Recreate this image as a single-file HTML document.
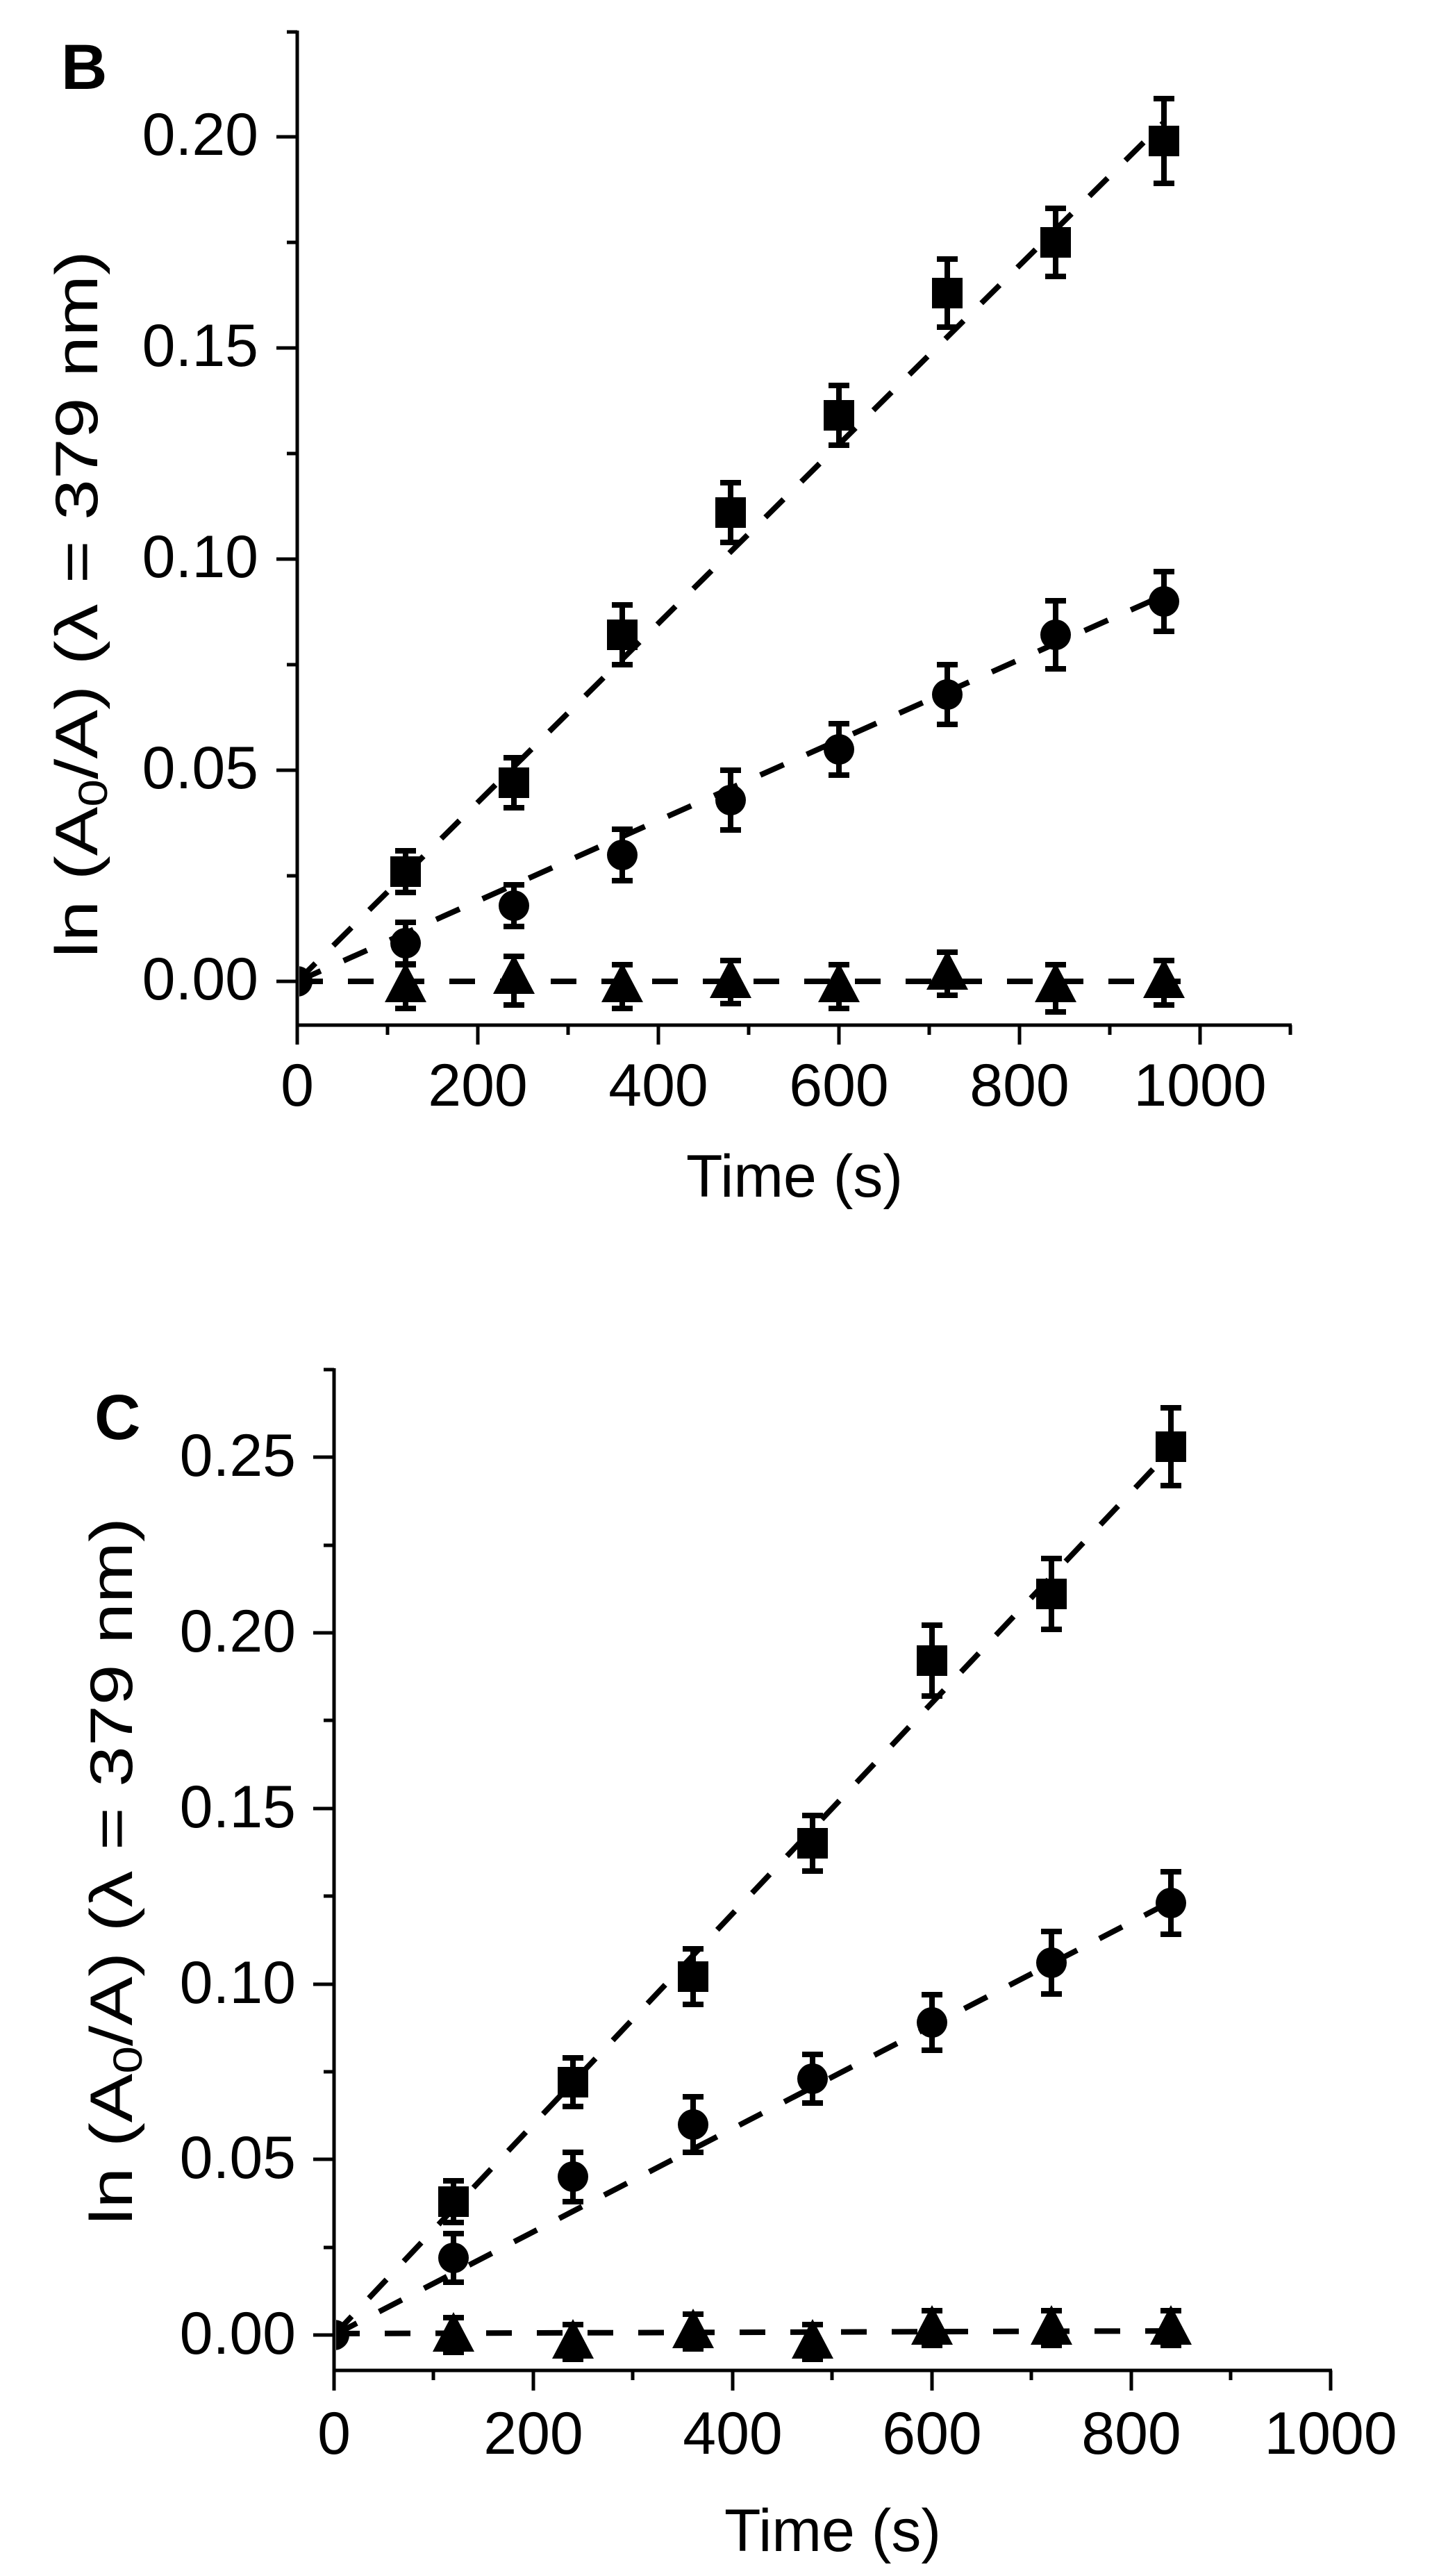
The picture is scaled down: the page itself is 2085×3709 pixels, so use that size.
<!DOCTYPE html>
<html><head><meta charset="utf-8"><style>
html,body{margin:0;padding:0;background:#fff;}
svg{display:block;}
text{font-family:"Liberation Sans",Arial,sans-serif;fill:#000;}
</style></head><body>
<svg width="2085" height="3709" viewBox="0 0 2085 3709" xmlns="http://www.w3.org/2000/svg">
<defs>
<clipPath id="cb"><rect x="431" y="0" width="1700" height="1900"/></clipPath>
<clipPath id="cc"><rect x="484" y="1900" width="1700" height="1800"/></clipPath>
<g id="sq"><rect x="-22" y="-22" width="44" height="44"/></g>
<g id="ci"><circle r="22"/></g>
<g id="tr"><polygon points="0,-33 30,24 -30,24"/></g>
</defs>

<!-- ============ PANEL B ============ -->
<g stroke="#000" stroke-width="5" fill="none">
<line x1="428" y1="44" x2="428" y2="1476"/>
<line x1="426" y1="1476" x2="1860" y2="1476"/>
<path d="M398 1413H428M398 1109H428M398 805H428M398 501H428M398 197H428M413 1261H428M413 957H428M413 653H428M413 349H428M413 46H428"/>
<path d="M428 1476V1504M688 1476V1504M948 1476V1504M1208 1476V1504M1468 1476V1504M1728 1476V1504M558 1476V1490M818 1476V1490M1078 1476V1490M1338 1476V1490M1598 1476V1490M1858 1476V1490"/>
</g>
<g font-size="86" text-anchor="end">
<text x="372" y="1439">0.00</text>
<text x="372" y="1135">0.05</text>
<text x="372" y="831">0.10</text>
<text x="372" y="527">0.15</text>
<text x="372" y="223">0.20</text>
</g>
<g font-size="86" text-anchor="middle">
<text x="428" y="1592">0</text>
<text x="688" y="1592">200</text>
<text x="948" y="1592">400</text>
<text x="1208" y="1592">600</text>
<text x="1468" y="1592">800</text>
<text x="1728" y="1592">1000</text>
<text x="1144" y="1723">Time (s)</text>
</g>
<text x="88" y="128" font-size="92" font-weight="bold">B</text>
<text transform="translate(140,870) rotate(-90) scale(1.23,1)" font-size="86" text-anchor="middle">ln (A<tspan font-size="58" dy="14">0</tspan><tspan dy="-14">/A) (λ = 379 nm)</tspan></text>

<g stroke="#000" stroke-width="8" fill="none" stroke-dasharray="37 36" clip-path="url(#cb)">
<line x1="428" y1="1413" x2="1676" y2="176"/>
<line x1="428" y1="1413" x2="1676" y2="857"/>
<line x1="428" y1="1413" x2="1700" y2="1413"/>
</g>
<g clip-path="url(#cb)">
<use href="#ci" x="428" y="1413"/>
</g>
<g stroke="#000" stroke-width="8" fill="none">
<path d="M584 1225V1285M569 1225H599M569 1285H599"/>
<path d="M740 1091V1163M725 1091H755M725 1163H755"/>
<path d="M896 871V957M881 871H911M881 957H911"/>
<path d="M1052 695V781M1037 695H1067M1037 781H1067"/>
<path d="M1208 555V641M1193 555H1223M1193 641H1223"/>
<path d="M1364 373V471M1349 373H1379M1349 471H1379"/>
<path d="M1520 300V398M1505 300H1535M1505 398H1535"/>
<path d="M1676 142V264M1661 142H1691M1661 264H1691"/>

<path d="M584 1328V1388M569 1328H599M569 1388H599"/>
<path d="M740 1274V1334M725 1274H755M725 1334H755"/>
<path d="M896 1194V1268M881 1194H911M881 1268H911"/>
<path d="M1052 1109V1195M1037 1109H1067M1037 1195H1067"/>
<path d="M1208 1042V1116M1193 1042H1223M1193 1116H1223"/>
<path d="M1364 957V1043M1349 957H1379M1349 1043H1379"/>
<path d="M1520 865V963M1505 865H1535M1505 963H1535"/>
<path d="M1676 823V909M1661 823H1691M1661 909H1691"/>

<path d="M584 1389V1452M569 1389H599M569 1452H599"/>
<path d="M740 1377V1447M725 1377H755M725 1447H755"/>
<path d="M896 1389V1452M881 1389H911M881 1452H911"/>
<path d="M1052 1383V1445M1037 1383H1067M1037 1445H1067"/>
<path d="M1208 1389V1452M1193 1389H1223M1193 1452H1223"/>
<path d="M1364 1371V1433M1349 1371H1379M1349 1433H1379"/>
<path d="M1520 1389V1457M1505 1389H1535M1505 1457H1535"/>
<path d="M1676 1383V1447M1661 1383H1691M1661 1447H1691"/>
</g>
<g fill="#000">
<use href="#sq" x="584" y="1255"/><use href="#sq" x="740" y="1127"/><use href="#sq" x="896" y="914"/><use href="#sq" x="1052" y="738"/><use href="#sq" x="1208" y="598"/><use href="#sq" x="1364" y="422"/><use href="#sq" x="1520" y="349"/><use href="#sq" x="1676" y="203"/>
<use href="#ci" x="584" y="1358"/><use href="#ci" x="740" y="1304"/><use href="#ci" x="896" y="1231"/><use href="#ci" x="1052" y="1152"/><use href="#ci" x="1208" y="1079"/><use href="#ci" x="1364" y="1000"/><use href="#ci" x="1520" y="914"/><use href="#ci" x="1676" y="866"/>
<use href="#tr" x="584" y="1419"/><use href="#tr" x="740" y="1407"/><use href="#tr" x="896" y="1419"/><use href="#tr" x="1052" y="1413"/><use href="#tr" x="1208" y="1419"/><use href="#tr" x="1364" y="1401"/><use href="#tr" x="1520" y="1419"/><use href="#tr" x="1676" y="1413"/>
</g>

<!-- ============ PANEL C ============ -->
<g stroke="#000" stroke-width="5" fill="none">
<line x1="481" y1="1970" x2="481" y2="3413"/>
<line x1="479" y1="3413" x2="1918" y2="3413"/>
<path d="M451 3362H481M451 3109H481M451 2857H481M451 2604H481M451 2351H481M451 2098H481M466 3236H481M466 2983H481M466 2730H481M466 2477H481M466 2225H481M466 1972H481"/>
<path d="M481 3413V3442M768 3413V3442M1055 3413V3442M1342 3413V3442M1629 3413V3442M1916 3413V3442M624 3413V3427M911 3413V3427M1198 3413V3427M1485 3413V3427M1772 3413V3427"/>
</g>
<g font-size="86" text-anchor="end">
<text x="426" y="3389">0.00</text>
<text x="426" y="3136">0.05</text>
<text x="426" y="2884">0.10</text>
<text x="426" y="2631">0.15</text>
<text x="426" y="2378">0.20</text>
<text x="426" y="2125">0.25</text>
</g>
<g font-size="86" text-anchor="middle">
<text x="481" y="3533">0</text>
<text x="768" y="3533">200</text>
<text x="1055" y="3533">400</text>
<text x="1342" y="3533">600</text>
<text x="1629" y="3533">800</text>
<text x="1916" y="3533">1000</text>
<text x="1199" y="3673">Time (s)</text>
</g>
<text x="136" y="2072" font-size="92" font-weight="bold">C</text>
<text transform="translate(190,2694) rotate(-90) scale(1.23,1)" font-size="86" text-anchor="middle">ln (A<tspan font-size="58" dy="14">0</tspan><tspan dy="-14">/A) (λ = 379 nm)</tspan></text>

<g stroke="#000" stroke-width="8" fill="none" stroke-dasharray="37 36" clip-path="url(#cc)">
<line x1="481" y1="3362" x2="1686" y2="2088"/>
<line x1="481" y1="3362" x2="1686" y2="2738"/>
<line x1="481" y1="3360" x2="1710" y2="3356"/>
</g>
<g clip-path="url(#cc)">
<use href="#ci" x="481" y="3362"/>
</g>
<g stroke="#000" stroke-width="8" fill="none">
<path d="M653 3140V3200M638 3140H668M638 3200H668"/>
<path d="M825 2963V3033M810 2963H840M810 3033H840"/>
<path d="M998 2806V2886M983 2806H1013M983 2886H1013"/>
<path d="M1170 2614V2694M1155 2614H1185M1155 2694H1185"/>
<path d="M1342 2340V2442M1327 2340H1357M1327 2442H1357"/>
<path d="M1514 2244V2346M1499 2244H1529M1499 2346H1529"/>
<path d="M1686 2027V2139M1671 2027H1701M1671 2139H1701"/>

<path d="M653 3216V3286M638 3216H668M638 3286H668"/>
<path d="M825 3099V3170M810 3099H840M810 3170H840"/>
<path d="M998 3019V3099M983 3019H1013M983 3099H1013"/>
<path d="M1170 2958V3028M1155 2958H1185M1155 3028H1185"/>
<path d="M1342 2872V2952M1327 2872H1357M1327 2952H1357"/>
<path d="M1514 2781V2871M1499 2781H1529M1499 2871H1529"/>
<path d="M1686 2695V2785M1671 2695H1701M1671 2785H1701"/>

<path d="M653 3337V3387M638 3337H668M638 3387H668"/>
<path d="M825 3347V3397M810 3347H840M810 3397H840"/>
<path d="M998 3332V3382M983 3332H1013M983 3382H1013"/>
<path d="M1170 3347V3397M1155 3347H1185M1155 3397H1185"/>
<path d="M1342 3327V3377M1327 3327H1357M1327 3377H1357"/>
<path d="M1514 3327V3377M1499 3327H1529M1499 3377H1529"/>
<path d="M1686 3327V3377M1671 3327H1701M1671 3377H1701"/>
</g>
<g fill="#000">
<use href="#sq" x="653" y="3170"/><use href="#sq" x="825" y="2998"/><use href="#sq" x="998" y="2846"/><use href="#sq" x="1170" y="2654"/><use href="#sq" x="1342" y="2391"/><use href="#sq" x="1514" y="2295"/><use href="#sq" x="1686" y="2083"/>
<use href="#ci" x="653" y="3251"/><use href="#ci" x="825" y="3134"/><use href="#ci" x="998" y="3059"/><use href="#ci" x="1170" y="2993"/><use href="#ci" x="1342" y="2912"/><use href="#ci" x="1514" y="2826"/><use href="#ci" x="1686" y="2740"/>
<use href="#tr" x="653" y="3362"/><use href="#tr" x="825" y="3372"/><use href="#tr" x="998" y="3357"/><use href="#tr" x="1170" y="3372"/><use href="#tr" x="1342" y="3352"/><use href="#tr" x="1514" y="3352"/><use href="#tr" x="1686" y="3352"/>
</g>
</svg>
</body></html>
